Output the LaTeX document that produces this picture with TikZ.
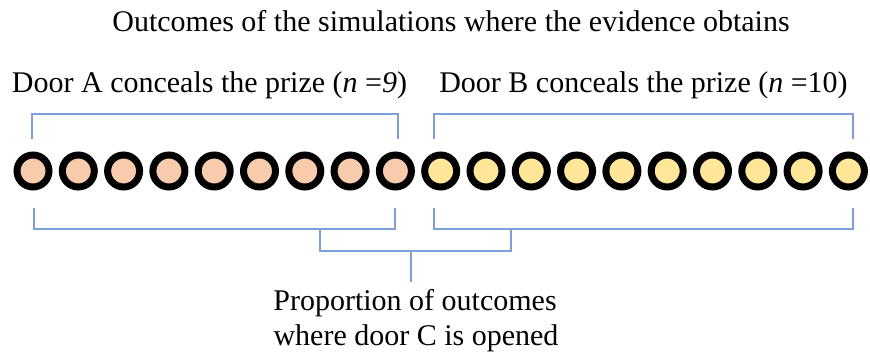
\documentclass[tikz,border=0pt]{standalone}
\usepackage{fontspec}
\setmainfont{Liberation Serif}
\definecolor{brack}{HTML}{7F9FD9}
\definecolor{doorA}{HTML}{F8CBAD}
\definecolor{doorB}{HTML}{FFE699}
\tikzset{
  outcome/.style={circle, draw=black, line width=7pt, minimum size=32pt, inner sep=0pt},
  brace/.style={draw=brack, line width=1.3pt},
  lbl/.style={font=\fontsize{30}{36}\selectfont, inner sep=0pt, anchor=base}
}
\begin{document}
\begin{tikzpicture}[x=1pt,y=-1pt]
        \useasboundingbox (0,0) rectangle (870,356);

        % Labels
        \node[lbl] (title) at (451,31) {Outcomes of the simulations where the evidence obtains};
        \node[lbl] (labA) at (209.5,92) {Door A conceals the prize (\textit{n} =\textit{9})};
        \node[lbl] (labB) at (643.5,92) {Door B conceals the prize (\textit{n} =10)};
        \node[lbl] (prop) at (415,310) {Proportion of outcomes};
        \node[lbl] (propb) at (416,345) {where door C is opened};

        % Outcomes
        \foreach \i in {1,...,9}
            \node[outcome, fill=doorA] (c\i) at ({33+(\i-1)*45.3},171) {};
        \foreach \i in {10,...,19}
            \node[outcome, fill=doorB] (c\i) at ({33+(\i-1)*45.3},171) {};

        % Brackets
        \coordinate (tA1) at (32,139);
        \coordinate (tA2) at (398,139);
        \coordinate (tB1) at (434,139);
        \coordinate (tB2) at (853,139);
        \coordinate (bA1) at (34,208);
        \coordinate (bA2) at (395,208);
        \coordinate (bB1) at (434,208);
        \coordinate (bB2) at (853,208);
        \coordinate (jA) at (320,229);
        \coordinate (jB) at (511,229);
        \coordinate (stem) at (411,251);

        \draw[brace] (tA1) -- ++(0,-25) -| (tA2);
        \draw[brace] (tB1) -- ++(0,-25) -| (tB2);
        \draw[brace] (bA1) -- ++(0,21) -| (bA2);
        \draw[brace] (bB1) -- ++(0,21) -| (bB2);
        \draw[brace] (jA) -- ++(0,22) -| (jB);
        \draw[brace] (stem) -- ++(0,31);
\end{tikzpicture}
\end{document}
